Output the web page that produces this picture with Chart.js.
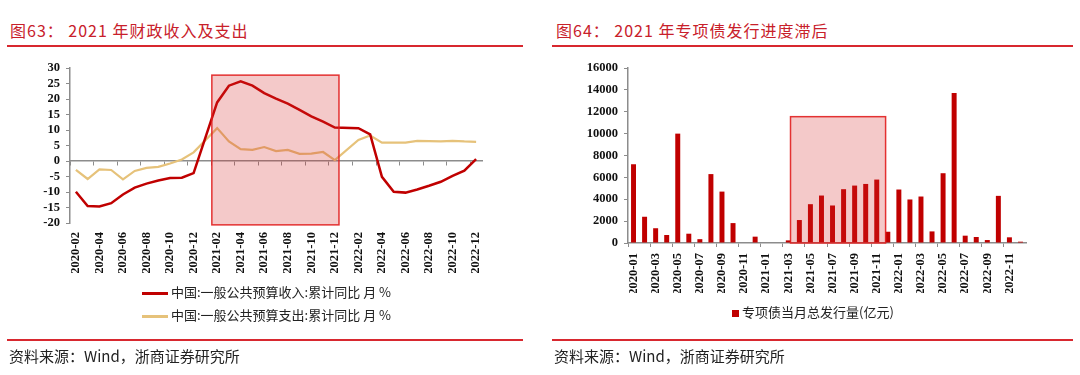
<!DOCTYPE html>
<html>
<head>
<meta charset="utf-8">
<script src="https://cdn.jsdelivr.net/npm/chart.js@4.4.1/dist/chart.umd.min.js"></script>
<style>
	body { margin: 0; background: #fff; }
	#wrap { position: relative; width: 1080px; height: 375px; overflow: hidden; font-family: "Noto Sans CJK SC", sans-serif; }
	canvas { position: absolute; top: 0; }
	.title { position: absolute; top: 18px; font-size: 16px; color: #c8202a; letter-spacing: 1px; }
	.rule { position: absolute; height: 2px; background: #d8282f; }
	.src { position: absolute; top: 345px; font-size: 15px; color: #222; }
	.legend { position: absolute; font-size: 13px; color: #222; line-height: 16px; }
	.legend div { position: relative; height: 23px; white-space: nowrap; }
	.legend i { display: inline-block; vertical-align: middle; margin-right: 3px; }
</style>
</head>
<body>
<div id="wrap">
	<div class="title" style="left:10px">图63： 2021 年财政收入及支出</div>
	<div class="title" style="left:556px">图64： 2021 年专项债发行进度滞后</div>
	<div class="rule" style="left:7px; top:45px; width:516px"></div>
	<div class="rule" style="left:552px; top:45px; width:521px"></div>

	<canvas id="fiscalChart" width="540" height="375" style="left:0"></canvas>
	<canvas id="bondChart" width="540" height="375" style="left:540px"></canvas>

	<div class="legend" id="fiscalLegend" style="left:142px; top:284px"></div>
	<div class="legend" id="bondLegend" style="left:732px; top:304px"></div>

	<div class="rule" style="left:7px; top:339px; width:516px"></div>
	<div class="rule" style="left:552px; top:339px; width:521px"></div>
	<div class="src" style="left:9px">资料来源：Wind，浙商证券研究所</div>
	<div class="src" style="left:554px">资料来源：Wind，浙商证券研究所</div>
</div>

<script>
// 图63 数据 (2021-01, 2022-01 无数据)
const fiscalMonths = [
	'2020-02','2020-03','2020-04','2020-05','2020-06','2020-07','2020-08','2020-09','2020-10','2020-11','2020-12',
	'2021-01','2021-02','2021-03','2021-04','2021-05','2021-06','2021-07','2021-08','2021-09','2021-10','2021-11','2021-12',
	'2022-01','2022-02','2022-03','2022-04','2022-05','2022-06','2022-07','2022-08','2022-09','2022-10','2022-11','2022-12'
];
const revenueYoy = [-9.9, -14.5, -14.7, -13.6, -10.8, -8.6, -7.3, -6.3, -5.5, -5.4, -3.9,
	null, 18.9, 24.3, 25.7, 24.3, 21.9, 20.1, 18.5, 16.5, 14.4, 12.7, 10.8,
	null, 10.6, 8.6, -5.1, -9.9, -10.2, -9.2, -8.0, -6.7, -4.8, -3.1, 0.6];
const expendYoy = [-2.9, -5.8, -2.7, -2.9, -5.9, -3.2, -2.2, -1.9, -0.8, 0.5, 2.8,
	null, 10.6, 6.3, 3.8, 3.6, 4.5, 3.2, 3.6, 2.3, 2.4, 2.9, 0.3,
	null, 6.8, 8.2, 5.9, 5.9, 5.9, 6.5, 6.4, 6.3, 6.5, 6.3, 6.2];
const fiscalNames = ['中国:一般公共预算收入:累计同比 月 %', '中国:一般公共预算支出:累计同比 月 %'];
const fiscalShadeX = [11.55, 22.35];	// 类目序号
const fiscalShadeY = [-20.6, 27.7];

// 图64 数据
const bondMonths = [
	'2020-01','2020-02','2020-03','2020-04','2020-05','2020-06','2020-07','2020-08','2020-09','2020-10','2020-11','2020-12',
	'2021-01','2021-02','2021-03','2021-04','2021-05','2021-06','2021-07','2021-08','2021-09','2021-10','2021-11','2021-12',
	'2022-01','2022-02','2022-03','2022-04','2022-05','2022-06','2022-07','2022-08','2022-09','2022-10','2022-11','2022-12'
];
const bondIssue = [7200, 2400, 1350, 730, 10000, 850, 350, 6300, 4700, 1820, 0, 580,
	0, 0, 240, 2100, 3550, 4340, 3430, 4920, 5250, 5400, 5800, 1030,
	4890, 3980, 4250, 1060, 6380, 13720, 670, 550, 270, 4310, 520, 120];
const bondName = '专项债当月总发行量(亿元)';
const bondShadeX = [14.2, 22.8];
const bondShadeY = [0, 11550];

const RED = '#c00000';
const YELLOW = '#e6c27a';
const AXIS = '#8c8c8c';
const tickFont = { family: '"Liberation Serif", serif', size: 12.5, weight: 'bold' };

// 高亮区域, 画在数据之上 (半透明)
const shadePlugin = {
	id: 'shade',
	afterDatasetsDraw(chart, args, opts) {
		const x = chart.scales.x, y = chart.scales.y;
		const x0 = x.getPixelForValue(opts.xs[0]), x1 = x.getPixelForValue(opts.xs[1]);
		const y0 = y.getPixelForValue(opts.ys[1]), y1 = y.getPixelForValue(opts.ys[0]);
		const ctx = chart.ctx;
		ctx.save();
		ctx.fillStyle = 'rgba(210, 40, 40, 0.25)';
		ctx.fillRect(x0, y0, x1 - x0, y1 - y0);
		ctx.strokeStyle = 'rgba(225, 30, 30, 0.9)';
		ctx.lineWidth = 1.5;
		ctx.strokeRect(x0, y0, x1 - x0, y1 - y0);
		ctx.restore();
	}
};

const evenLabel = (list) => function (val, i) { return i % 2 === 0 ? list[i] : ''; };

new Chart(document.getElementById('fiscalChart'), {
	type: 'line',
	data: {
		labels: fiscalMonths,
		datasets: [{
			label: fiscalNames[0],
			data: revenueYoy,
			borderColor: RED,
			borderWidth: 2.5,
			pointRadius: 0,
			spanGaps: true,
			tension: 0
		}, {
			label: fiscalNames[1],
			data: expendYoy,
			borderColor: YELLOW,
			borderWidth: 2.2,
			pointRadius: 0,
			spanGaps: true,
			tension: 0
		}]
	},
	options: {
		responsive: false,
		animation: false,
		devicePixelRatio: 1,
		layout: { padding: { left: 0, right: 58, top: 68, bottom: 102 } },
		plugins: {
			legend: { display: false },
			tooltip: { enabled: false },
			shade: { xs: fiscalShadeX, ys: fiscalShadeY }
		},
		scales: {
			x: {
				offset: true,
				grid: { display: false, drawTicks: false },
				border: { display: false },
				ticks: {
					autoSkip: false, minRotation: 90, maxRotation: 90, padding: 9,
					color: '#111', font: tickFont, callback: evenLabel(fiscalMonths)
				},
				afterFit: (s) => { s.height = 50; }
			},
			x2: {
				type: 'category',
				position: { y: 0 },
				offset: true,
				grid: {
					offset: true, drawOnChartArea: false, tickLength: 4,
					color: (c) => c.index % 2 === 0 ? AXIS : 'rgba(0,0,0,0)'
				},
				border: { color: AXIS, width: 1.5 },
				ticks: { display: false },
				afterFit: (s) => { s.height = 0; }
			},
			y: {
				min: -20, max: 30,
				ticks: { stepSize: 5, autoSkip: false, padding: 6, color: '#111', font: tickFont },
				grid: { drawOnChartArea: false, tickLength: 4, color: AXIS },
				border: { color: AXIS, width: 1.5 },
				afterFit: (s) => { s.width = 70; }
			}
		}
	},
	plugins: [shadePlugin]
});

new Chart(document.getElementById('bondChart'), {
	type: 'bar',
	data: {
		labels: bondMonths,
		datasets: [{
			label: bondName,
			data: bondIssue,
			backgroundColor: RED,
			barPercentage: 0.45,
			categoryPercentage: 1
		}]
	},
	options: {
		responsive: false,
		animation: false,
		devicePixelRatio: 1,
		layout: { padding: { left: 0, right: 54, top: 68, bottom: 82 } },
		plugins: {
			legend: { display: false },
			tooltip: { enabled: false },
			shade: { xs: bondShadeX, ys: bondShadeY }
		},
		scales: {
			x: {
				grid: {
					offset: true, drawOnChartArea: false, tickLength: 4,
					color: (c) => c.index % 2 === 0 ? AXIS : 'rgba(0,0,0,0)'
				},
				border: { color: AXIS, width: 1.5 },
				ticks: {
					autoSkip: false, minRotation: 90, maxRotation: 90, padding: 6,
					color: '#111', font: tickFont, callback: evenLabel(bondMonths)
				},
				afterFit: (s) => { s.height = 50; }
			},
			y: {
				min: 0, max: 16000,
				ticks: { stepSize: 2000, autoSkip: false, padding: 6, color: '#111', font: tickFont, callback: (v) => String(v) },
				grid: { drawOnChartArea: false, tickLength: 4, color: AXIS },
				border: { color: AXIS, width: 1.5 },
				afterFit: (s) => { s.width = 88; }
			}
		}
	},
	plugins: [shadePlugin]
});

// 图例
const fiscalColors = [RED, YELLOW];
document.getElementById('fiscalLegend').innerHTML = fiscalNames.map((n, i) =>
	'<div><i style="width:26px;height:2.5px;background:' + fiscalColors[i] + '"></i>' + n + '</div>'
).join('');
document.getElementById('bondLegend').innerHTML =
	'<div><i style="width:7px;height:7px;background:' + RED + '"></i>' + bondName + '</div>';
</script>
</body>
</html>
